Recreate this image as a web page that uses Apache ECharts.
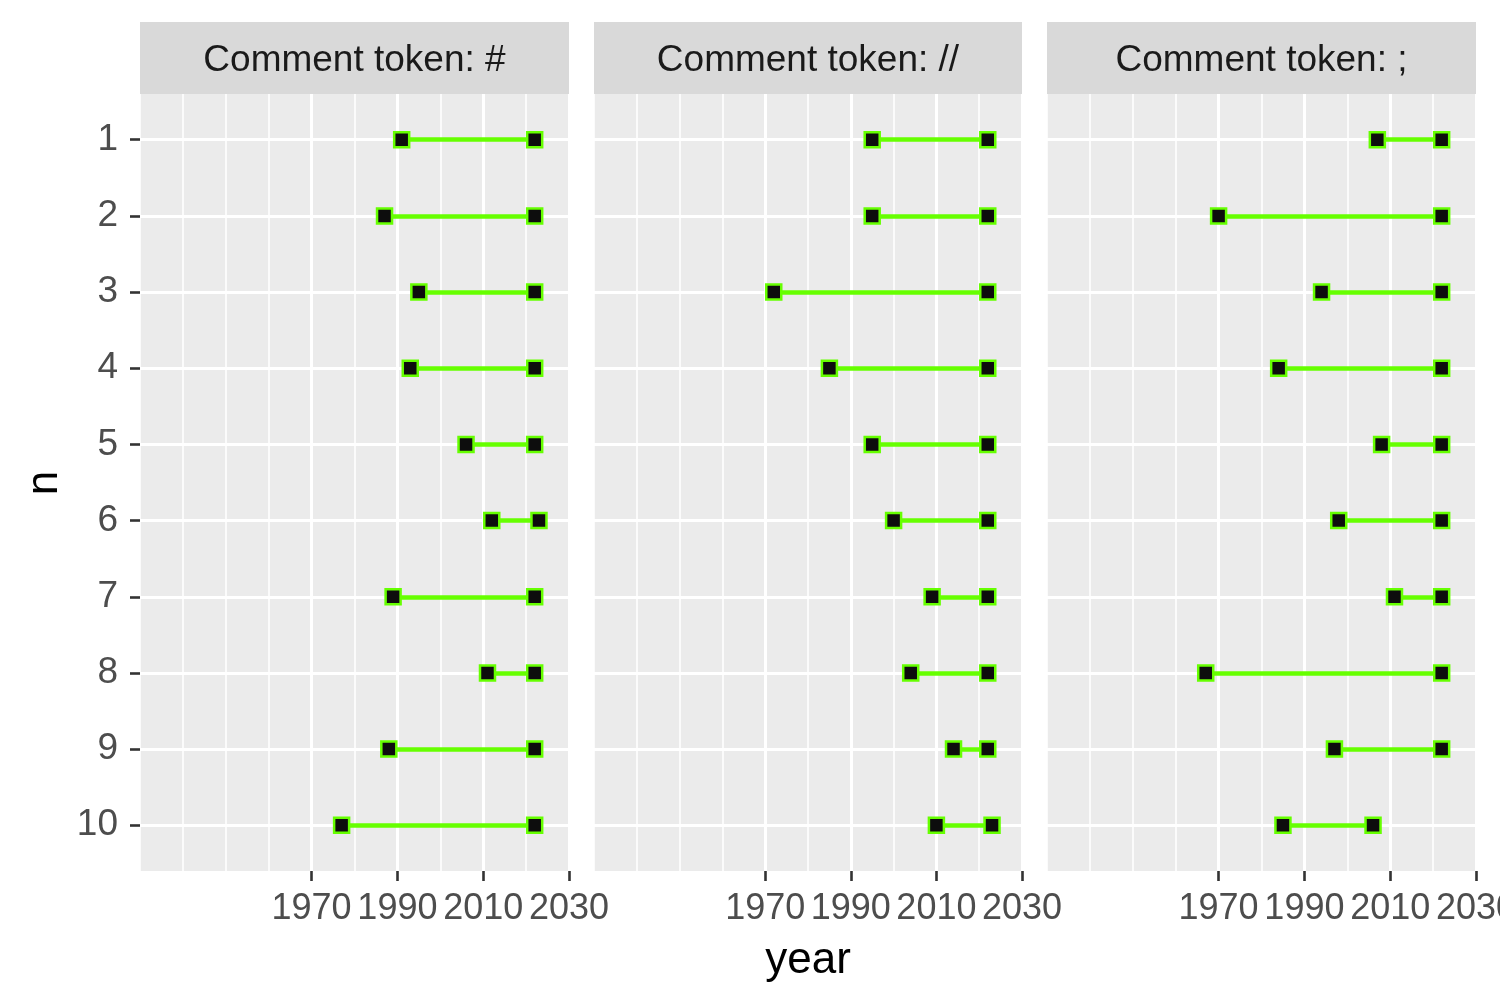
<!DOCTYPE html>
<html lang="en">
<head>
    <meta charset="UTF-8">
    <title>Comment tokens by year</title>
    <script src="https://cdn.jsdelivr.net/npm/echarts@6/dist/echarts.min.js"></script>
    <style>
        html, body { margin: 0; padding: 0; background: #fff; }
    </style>
</head>
<body>
<div id="main" style="width:1500px;height:1005px;"></div>
<script>
// data
var rows = [1, 2, 3, 4, 5, 6, 7, 8, 9, 10];
var panelNames = ['Comment token: #', 'Comment token: //', 'Comment token: ;'];
var hashStart  = [1991, 1987, 1995, 1993, 2006, 2012, 1989, 2011, 1988, 1977];
var hashEnd    = [2022, 2022, 2022, 2022, 2022, 2023, 2022, 2022, 2022, 2022];
var slashStart = [1995, 1995, 1972, 1985, 1995, 2000, 2009, 2004, 2014, 2010];
var slashEnd   = [2022, 2022, 2022, 2022, 2022, 2022, 2022, 2022, 2022, 2023];
var semiStart  = [2007, 1970, 1994, 1984, 2008, 1998, 2011, 1967, 1997, 1985];
var semiEnd    = [2022, 2022, 2022, 2022, 2022, 2022, 2022, 2022, 2022, 2006];
var xTickLabels = [1970, 1990, 2010, 2030];

var starts = [hashStart, slashStart, semiStart];
var ends = [hashEnd, slashEnd, semiEnd];

var FONT = 'Liberation Sans, Arial, sans-serif';
var panelLeft = [140, 594, 1047];
var panelWidth = [429, 428, 429];
var plotTop = 94, plotHeight = 777;

var grids = [], xAxes = [], yAxes = [], series = [], graphics = [];

for (var p = 0; p < 3; p++) {
    grids.push({
        left: panelLeft[p], top: plotTop, width: panelWidth[p], height: plotHeight,
        show: true, backgroundColor: '#ebebeb', borderWidth: 0,
        containLabel: false, outerBoundsMode: 'none'
    });
    // minor grid lines every 10 years
    xAxes.push({
        type: 'value', gridIndex: p, position: 'top', min: 1930, max: 2030, interval: 10,
        axisLine: {show: false}, axisTick: {show: false}, axisLabel: {show: false},
        splitLine: {show: true, lineStyle: {color: '#ffffff', width: 1.6}}
    });
    // major breaks with labels
    xAxes.push({
        type: 'value', gridIndex: p, position: 'bottom', min: 1930, max: 2030,
        axisLine: {show: false},
        axisTick: {show: true, customValues: xTickLabels, length: 10,
                   lineStyle: {color: '#333333', width: 2.6}},
        axisLabel: {show: true, customValues: xTickLabels, color: '#4d4d4d',
                    fontSize: 36, fontFamily: FONT, margin: 20, hideOverlap: false,
                    formatter: function (v) { return String(v); }},
        splitLine: {show: true, lineStyle: {color: '#ffffff', width: 3}}
    });
    yAxes.push({
        type: 'value', gridIndex: p, inverse: true, min: 0.4, max: 10.6,
        axisLine: {show: false},
        axisTick: {show: p === 0, customValues: rows, length: 10,
                   lineStyle: {color: '#333333', width: 2.6}},
        axisLabel: {show: p === 0, customValues: rows, color: '#4d4d4d',
                    fontSize: 37, fontFamily: FONT, margin: 22},
        splitLine: {show: true, lineStyle: {color: '#ffffff', width: 3}}
    });

    var segs = [], pts = [];
    for (var i = 0; i < rows.length; i++) {
        segs.push({coords: [[starts[p][i], rows[i]], [ends[p][i], rows[i]]]});
        pts.push([starts[p][i], rows[i]]);
        pts.push([ends[p][i], rows[i]]);
    }
    series.push({
        type: 'lines', coordinateSystem: 'cartesian2d',
        xAxisIndex: 2 * p + 1, yAxisIndex: p, z: 3,
        lineStyle: {color: '#66ff00', width: 4.5, opacity: 1},
        data: segs
    });
    series.push({
        type: 'scatter', xAxisIndex: 2 * p + 1, yAxisIndex: p, z: 4,
        symbol: 'rect', symbolSize: 15,
        itemStyle: {color: '#0d0d0d', borderColor: '#66ff00', borderWidth: 2.5, opacity: 1},
        data: pts
    });

    // facet strip
    graphics.push({
        type: 'rect', left: panelLeft[p], top: 22,
        shape: {width: panelWidth[p], height: 72},
        style: {fill: '#d9d9d9'}
    });
    graphics.push({
        type: 'text', x: panelLeft[p] + panelWidth[p] / 2, y: 61,
        style: {text: panelNames[p], fill: '#1a1a1a', font: '37px ' + FONT,
                textAlign: 'center', textVerticalAlign: 'middle'}
    });
}

// axis titles
graphics.push({
    type: 'text', x: 808, y: 961,
    style: {text: 'year', fill: '#000000', font: '44px ' + FONT,
            textAlign: 'center', textVerticalAlign: 'middle'}
});
graphics.push({
    type: 'text', x: 45, y: 483, rotation: Math.PI / 2,
    style: {text: 'n', fill: '#000000', font: '44px ' + FONT,
            textAlign: 'center', textVerticalAlign: 'middle'}
});

var myChart = echarts.init(document.getElementById('main'));
myChart.setOption({
    animation: false,
    backgroundColor: '#ffffff',
    grid: grids,
    xAxis: xAxes,
    yAxis: yAxes,
    series: series,
    graphic: graphics
});
</script>
</body>
</html>
